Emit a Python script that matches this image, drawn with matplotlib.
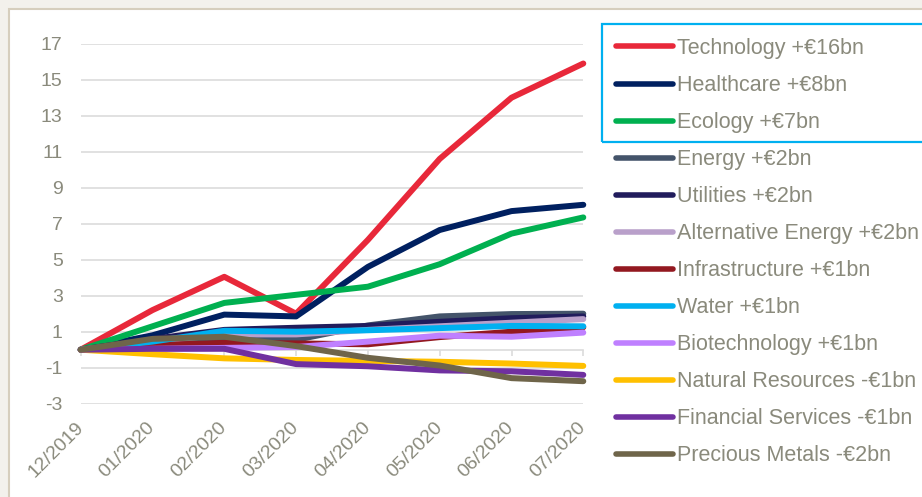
import matplotlib
matplotlib.use("Agg")
import matplotlib.pyplot as plt
from matplotlib.patches import Rectangle
from matplotlib.lines import Line2D

plt.rcParams["font.family"] = ["Liberation Sans", "DejaVu Sans"]
plt.rcParams["axes.unicode_minus"] = False

# Cumulative net flows by theme (EUR bn)
months = ["12/2019", "01/2020", "02/2020", "03/2020", "04/2020", "05/2020", "06/2020", "07/2020"]

technology = [0, 2.2, 4.05, 2.0, 6.1, 10.6, 14.0, 15.9]
healthcare = [0, 0.8, 1.95, 1.85, 4.6, 6.65, 7.7, 8.05]
ecology = [0, 1.3, 2.6, 3.05, 3.5, 4.75, 6.45, 7.35]
energy = [0, 0.35, 0.6, 0.55, 1.35, 1.85, 1.98, 2.0]
utilities = [0, 0.6, 1.1, 1.22, 1.32, 1.55, 1.75, 1.85]
alternative_energy = [0, 0.45, 0.85, 0.85, 1.1, 1.3, 1.5, 1.7]
infrastructure = [0, 0.25, 0.38, 0.35, 0.3, 0.7, 1.0, 1.25]
water = [0, 0.45, 1.05, 1.0, 1.08, 1.2, 1.32, 1.3]
biotechnology = [0, 0.05, 0.1, 0.15, 0.45, 0.78, 0.72, 0.95]
natural_resources = [0, -0.25, -0.48, -0.57, -0.62, -0.67, -0.77, -0.9]
financial_services = [0, 0.05, 0.05, -0.8, -0.92, -1.15, -1.2, -1.4]
precious_metals = [0, 0.6, 0.72, 0.2, -0.45, -0.88, -1.58, -1.75]

labels = [
    "Technology +€16bn", "Healthcare +€8bn", "Ecology +€7bn", "Energy +€2bn",
    "Utilities +€2bn", "Alternative Energy +€2bn", "Infrastructure +€1bn",
    "Water +€1bn", "Biotechnology +€1bn", "Natural Resources -€1bn",
    "Financial Services -€1bn", "Precious Metals -€2bn",
]
series = [
    technology, healthcare, ecology, energy, utilities, alternative_energy,
    infrastructure, water, biotechnology, natural_resources,
    financial_services, precious_metals,
]
colors = [
    "#E8283A", "#002060", "#00B050", "#44546A", "#211C5C", "#B9A0CA",
    "#931820", "#00B0F0", "#BF80FF", "#FFC000", "#7030A0", "#6F654A",
]

yticks = list(range(-3, 18, 2))

TEXT = "#8A8A7C"
GRID = "#DCDCDC"

W, H = 922, 497
fig = plt.figure(figsize=(W / 100, H / 100), dpi=100)
fig.patch.set_facecolor("#F3F1EC")

# white panel with thin beige frame
fig.patches.append(Rectangle((8.5 / W, -0.1), 1.2, 1.1 - 8.5 / H,
                             transform=fig.transFigure, facecolor="white",
                             edgecolor="#D6CEBD", linewidth=1.5, zorder=-10))

ax = fig.add_axes([80.7 / W, 1 - 403.7 / H, 502.6 / W, 360.0 / H])
ax.set_facecolor("none")

x = list(range(len(months)))
handles = []
for vals, lab, col in zip(series, labels, colors):
    ax.plot(x, vals, color=col, lw=4.3, solid_capstyle="round",
            solid_joinstyle="round", clip_on=False, label=lab, zorder=3)
    handles.append(Line2D([], [], color=col, lw=4.0, solid_capstyle="round"))

ax.set_xlim(0, len(months) - 1)
ax.set_ylim(-3, 17)
ax.set_yticks(yticks)
ax.set_yticklabels([str(v) for v in yticks])
ax.grid(axis="y", color=GRID, lw=1.2)
ax.set_axisbelow(True)

for s in ["left", "right", "top"]:
    ax.spines[s].set_visible(False)
ax.spines["bottom"].set_position(("data", 0))
ax.spines["bottom"].set_color(GRID)
ax.spines["bottom"].set_linewidth(1.2)
ax.set_xticks(x)
ax.tick_params(axis="x", direction="out", length=4, width=1.2, color=GRID,
               labelbottom=False)
ax.tick_params(axis="y", length=0, pad=13, labelsize=14, labelcolor=TEXT)

# month labels along the bottom edge
sec = ax.secondary_xaxis("bottom")
sec.set_xticks(x)
sec.set_xticklabels(months, rotation=45, ha="right", va="center",
                    rotation_mode="anchor", fontsize=14, color=TEXT)
sec.tick_params(length=0, pad=15)
sec.spines["bottom"].set_visible(False)

leg = ax.legend(handles, labels, loc="upper left",
                bbox_to_anchor=(616 / W, 1 - 38 / H), bbox_transform=fig.transFigure,
                frameon=False, fontsize=15.5, labelcolor=TEXT, handlelength=2.65,
                handletextpad=0.2, labelspacing=0.745, borderpad=0, borderaxespad=0)

# highlight box around the three leading themes
fig.patches.append(Rectangle((602 / W, 1 - 141.5 / H), 330 / W, 117.5 / H,
                             transform=fig.transFigure, facecolor="none",
                             edgecolor="#00B0F0", linewidth=1.6, zorder=5))

fig.savefig("out.png", dpi=100, facecolor=fig.get_facecolor())
